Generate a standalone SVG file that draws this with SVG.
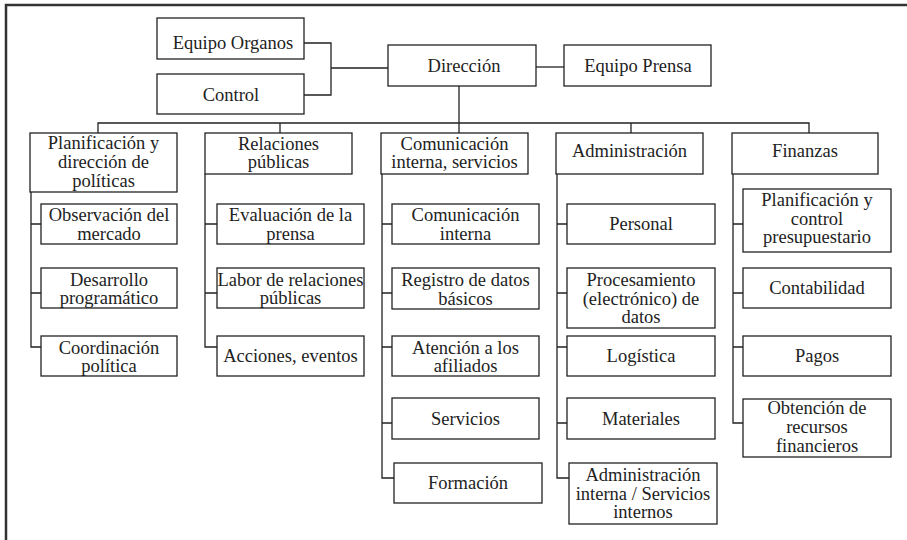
<svg xmlns="http://www.w3.org/2000/svg" width="907" height="540" viewBox="0 0 907 540">
<style>
.box{fill:#fff;stroke:#222;stroke-width:1.3}
.t{font-family:'Liberation Serif','Tinos','Noto Serif','DejaVu Serif','Times New Roman',Times,serif;font-size:18.5px;fill:#222;text-anchor:middle}
.c{fill:none;stroke:#222;stroke-width:1.3}
.frame{fill:none;stroke:#333;stroke-width:2.5}
</style>
<rect width="907" height="540" fill="#fff"/>
<path class="frame" d="M6,540 V5 H907"/>
<g id="connectors">
<path class="c" d="M304,43 H331 V95 H304 M331,68 H388"/>
<path class="c" d="M536,67 H564"/>
<path class="c" d="M459,86 V133 M98,133 V123 H809 V133 M280,123 V133 M631,123 V133"/>
<path class="c" d="M31,192 V347 H41 M31,224 H41 M31,293 H41"/>
<path class="c" d="M205,174 V347 H217 M205,224 H217 M205,293 H217"/>
<path class="c" d="M382,174 V478 H394 M382,224 H392 M382,293 H392 M382,347 H392 M382,423 H392"/>
<path class="c" d="M557,174 V478 H569 M557,224 H567 M557,293 H567 M557,347 H567 M557,423 H567"/>
<path class="c" d="M733,174 V423 H743 M733,224 H743 M733,293 H743 M733,347 H743"/>
</g>
<g id="n_equipo_organos"><rect class="box" x="157" y="18" width="147" height="41"/><text class="t" x="233" y="49">Equipo Organos</text></g>
<g id="n_control"><rect class="box" x="157" y="74" width="147" height="40"/><text class="t" x="231" y="101">Control</text></g>
<g id="n_direccion"><rect class="box" x="388" y="45" width="148" height="41"/><text class="t" x="464" y="72">Dirección</text></g>
<g id="n_equipo_prensa"><rect class="box" x="564" y="45" width="147" height="41"/><text class="t" x="638" y="72">Equipo Prensa</text></g>

<g id="n_planificacion"><rect class="box" x="30" y="133" width="147" height="59"/><text class="t" x="103.5" y="149">Planificación y</text><text class="t" x="103.5" y="168">dirección de</text><text class="t" x="103.5" y="187">políticas</text></g>
<g id="n_relaciones"><rect class="box" x="205" y="133" width="147" height="41"/><text class="t" x="278.5" y="149.5">Relaciones</text><text class="t" x="278.5" y="168">públicas</text></g>
<g id="n_comunicacion"><rect class="box" x="381" y="133" width="147" height="41"/><text class="t" x="454.5" y="149.5">Comunicación</text><text class="t" x="454.5" y="168">interna, servicios</text></g>
<g id="n_administracion"><rect class="box" x="556" y="133" width="147" height="41"/><text class="t" x="629.5" y="157">Administración</text></g>
<g id="n_finanzas"><rect class="box" x="732" y="133" width="146" height="41"/><text class="t" x="805" y="157">Finanzas</text></g>

<g id="n_observacion"><rect class="box" x="41" y="204" width="136" height="40"/><text class="t" x="109" y="221">Observación del</text><text class="t" x="109" y="239.5">mercado</text></g>
<g id="n_desarrollo"><rect class="box" x="41" y="268" width="136" height="40"/><text class="t" x="109" y="285.5">Desarrollo</text><text class="t" x="109" y="304">programático</text></g>
<g id="n_coordinacion"><rect class="box" x="41" y="336" width="136" height="40"/><text class="t" x="109" y="353.5">Coordinación</text><text class="t" x="109" y="372">política</text></g>

<g id="n_evaluacion"><rect class="box" x="217" y="204" width="147" height="40"/><text class="t" x="290.5" y="221">Evaluación de la</text><text class="t" x="290.5" y="239.5">prensa</text></g>
<g id="n_labor"><rect class="box" x="217" y="268" width="147" height="40"/><text class="t" x="290.5" y="285.5">Labor de relaciones</text><text class="t" x="290.5" y="304">públicas</text></g>
<g id="n_acciones"><rect class="box" x="217" y="336" width="147" height="40"/><text class="t" x="290.5" y="362">Acciones, eventos</text></g>

<g id="n_com_interna"><rect class="box" x="392" y="204" width="147" height="40"/><text class="t" x="465.5" y="221">Comunicación</text><text class="t" x="465.5" y="239.5">interna</text></g>
<g id="n_registro"><rect class="box" x="392" y="268" width="147" height="41"/><text class="t" x="465.5" y="286">Registro de datos</text><text class="t" x="465.5" y="304.5">básicos</text></g>
<g id="n_atencion"><rect class="box" x="392" y="336" width="147" height="40"/><text class="t" x="465.5" y="353.5">Atención a los</text><text class="t" x="465.5" y="372">afiliados</text></g>
<g id="n_servicios"><rect class="box" x="392" y="398" width="147" height="41"/><text class="t" x="465.5" y="424.5">Servicios</text></g>
<g id="n_formacion"><rect class="box" x="394" y="463" width="148" height="40"/><text class="t" x="468" y="489">Formación</text></g>

<g id="n_personal"><rect class="box" x="567" y="204" width="148" height="40"/><text class="t" x="641" y="230">Personal</text></g>
<g id="n_procesamiento"><rect class="box" x="567" y="268" width="148" height="60"/><text class="t" x="641" y="285.5">Procesamiento</text><text class="t" x="641" y="304.5">(electrónico) de</text><text class="t" x="641" y="323">datos</text></g>
<g id="n_logistica"><rect class="box" x="567" y="336" width="148" height="40"/><text class="t" x="641" y="362">Logística</text></g>
<g id="n_materiales"><rect class="box" x="567" y="398" width="148" height="41"/><text class="t" x="641" y="424.5">Materiales</text></g>
<g id="n_adm_interna"><rect class="box" x="569" y="463" width="148" height="61"/><text class="t" x="643" y="481">Administración</text><text class="t" x="643" y="499.5">interna / Servicios</text><text class="t" x="643" y="518">internos</text></g>

<g id="n_planif_control"><rect class="box" x="743" y="189" width="148" height="63"/><text class="t" x="817" y="206">Planificación y</text><text class="t" x="817" y="224.5">control</text><text class="t" x="817" y="243">presupuestario</text></g>
<g id="n_contabilidad"><rect class="box" x="743" y="268" width="148" height="40"/><text class="t" x="817" y="294">Contabilidad</text></g>
<g id="n_pagos"><rect class="box" x="743" y="336" width="148" height="40"/><text class="t" x="817" y="362">Pagos</text></g>
<g id="n_obtencion"><rect class="box" x="743" y="399" width="148" height="58"/><text class="t" x="817" y="414">Obtención de</text><text class="t" x="817" y="433">recursos</text><text class="t" x="817" y="452">financieros</text></g>
</svg>
